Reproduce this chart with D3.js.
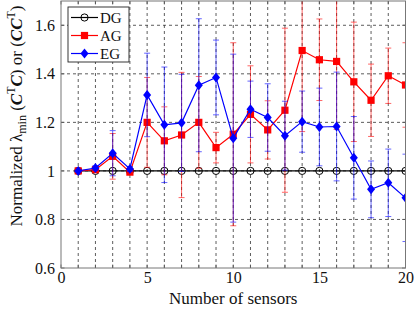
<!DOCTYPE html>
<html>
<head>
<meta charset="utf-8">
<script src="https://cdn.jsdelivr.net/npm/d3@7"></script>
<style>
  body { margin: 0; background: #fff; }
  svg { font-family: 'Liberation Serif', 'DejaVu Serif', serif; }
</style>
</head>
<body>
<svg id="chart" width="415" height="313"></svg>
<script>
const sensors = [1, 2, 3, 4, 5, 6, 7, 8, 9, 10, 11, 12, 13, 14, 15, 16, 17, 18, 19, 20]
const dgMean = [1, 1, 1, 1, 1, 1, 1, 1, 1, 1, 1, 1, 1, 1, 1, 1, 1, 1, 1, 1]
const dgErr = [0, 0, 0, 0, 0, 0, 0, 0, 0, 0, 0, 0, 0, 0, 0, 0, 0, 0, 0, 0]
const agMean = [1.000, 1.005, 1.060, 0.995, 1.200, 1.124, 1.148, 1.200, 1.096, 1.151,
                1.233, 1.169, 1.250, 1.496, 1.458, 1.451, 1.367, 1.291, 1.392, 1.354]
const agErr = [0, 0.008, 0.094, 0.008, 0.185, 0.140, 0.258, 0.189, 0.063, 0.377,
               0.200, 0.120, 0.338, 0.334, 0.168, 0.280, 0.246, 0.149, 0.114, 0.174]
const egMean = [1.000, 1.012, 1.073, 1.008, 1.313, 1.190, 1.198, 1.353, 1.385, 1.135,
                1.254, 1.220, 1.145, 1.203, 1.181, 1.183, 1.054, 0.924, 0.951, 0.889]
const egErr = [0, 0.010, 0.093, 0.010, 0.172, 0.238, 0.200, 0.274, 0.154, 0.346,
               0.116, 0.139, 0.142, 0.126, 0.160, 0.224, 0.170, 0.117, 0.139, 0.180]
const xTicks = [0, 5, 10, 15, 20]
const yTicks = [0.6, 0.8, 1.0, 1.2, 1.4, 1.6]
const seriesNames = ['DG', 'AG', 'EG']

const margin = {left: 61, right: 9.5, top: 1, bottom: 45}
const W = 415, H = 313
const svg = d3.select('#chart')

const x = d3.scaleLinear().domain([0, 20]).range([margin.left, W - margin.right])
const y = d3.scaleLinear().domain([0.6, 1.7]).range([H - margin.bottom, margin.top])

svg.append('defs').append('clipPath').attr('id', 'plot')
  .append('rect')
    .attr('x', x(0)).attr('y', y(1.7))
    .attr('width', x(20) - x(0)).attr('height', y(0.6) - y(1.7))

// grid
const grid = svg.append('g').attr('stroke', '#333').attr('stroke-dasharray', '3,3').attr('stroke-width', 0.8)
grid.selectAll('line.gx').data(d3.range(1, 20)).join('line')
  .attr('x1', d => x(d)).attr('x2', d => x(d))
  .attr('y1', y(0.6)).attr('y2', y(1.7))
grid.selectAll('line.gy').data(yTicks.slice(1)).join('line')
  .attr('y1', d => y(d)).attr('y2', d => y(d))
  .attr('x1', x(0)).attr('x2', x(20))

// axes, ticks inside like matlab
const axisBottom = d3.axisBottom(x).tickValues(xTicks).tickSize(0).tickPadding(4).tickFormat(d3.format('d'))
const axisLeft = d3.axisLeft(y).tickValues(yTicks).tickSize(0).tickPadding(6).tickFormat(d => d === 1 ? '1' : d3.format('.1f')(d))

svg.append('g').attr('transform', `translate(0, ${y(0.6)})`).call(axisBottom)
  .call(g => g.select('.domain').remove())
  .selectAll('text').attr('font-size', 16).attr('fill', '#111').attr('font-family', 'Liberation Serif')
svg.append('g').attr('transform', `translate(${x(0)}, 0)`).call(axisLeft)
  .call(g => g.select('.domain').remove())
  .selectAll('text').attr('font-size', 16).attr('fill', '#111').attr('font-family', 'Liberation Serif')

const ticks = svg.append('g').attr('stroke', '#555').attr('stroke-width', 0.8)
ticks.selectAll('line.tb').data(d3.range(0, 21)).join('line')
  .attr('x1', d => x(d)).attr('x2', d => x(d)).attr('y1', y(0.6)).attr('y2', y(0.6) - 3.5)
ticks.selectAll('line.tt').data(d3.range(0, 21)).join('line')
  .attr('x1', d => x(d)).attr('x2', d => x(d)).attr('y1', y(1.7)).attr('y2', y(1.7) + 3.5)
ticks.selectAll('line.tl').data(yTicks).join('line')
  .attr('y1', d => y(d)).attr('y2', d => y(d)).attr('x1', x(0)).attr('x2', x(0) + 3.5)
ticks.selectAll('line.tr').data(yTicks).join('line')
  .attr('y1', d => y(d)).attr('y2', d => y(d)).attr('x1', x(20)).attr('x2', x(20) - 3.5)

// series
const series = [
  {name: 'DG', mean: dgMean, err: dgErr, color: '#000', shape: 'circle'},
  {name: 'AG', mean: agMean, err: agErr, color: '#ff0000', shape: 'square'},
  {name: 'EG', mean: egMean, err: egErr, color: '#0000ff', shape: 'diamond'}
]

const line = d3.line().x(d => x(d.x)).y(d => y(d.y))
const plot = svg.append('g').attr('clip-path', 'url(#plot)')

function drawMarker (g, shape, color) {
  if (shape === 'circle') {
    g.append('circle').attr('r', 3.6).attr('fill', 'none').attr('stroke', color).attr('stroke-width', 1)
  } else if (shape === 'square') {
    g.append('rect').attr('x', -3.6).attr('y', -3.6).attr('width', 7.2).attr('height', 7.2).attr('fill', color)
  } else {
    g.append('path').attr('d', 'M0,-5L4,0L0,5L-4,0Z').attr('fill', color)
  }
}

series.forEach(s => {
  const pts = sensors.map((d, i) => ({x: d, y: s.mean[i], e: s.err[i]}))
  const eb = plot.append('g').attr('stroke', s.color).attr('stroke-opacity', 0.6).attr('stroke-width', 1)
  pts.filter(p => p.e > 0).forEach(p => {
    eb.append('line').attr('x1', x(p.x)).attr('x2', x(p.x)).attr('y1', y(p.y - p.e)).attr('y2', y(p.y + p.e))
    eb.append('line').attr('x1', x(p.x) - 3).attr('x2', x(p.x) + 3).attr('y1', y(p.y - p.e)).attr('y2', y(p.y - p.e))
    eb.append('line').attr('x1', x(p.x) - 3).attr('x2', x(p.x) + 3).attr('y1', y(p.y + p.e)).attr('y2', y(p.y + p.e))
  })
  plot.append('path').attr('d', line(pts)).attr('fill', 'none').attr('stroke', s.color).attr('stroke-width', 1.2)
  pts.forEach(p => {
    const g = plot.append('g').attr('transform', `translate(${x(p.x)}, ${y(p.y)})`)
    drawMarker(g, s.shape, s.color)
  })
})

// box
svg.append('rect')
  .attr('x', x(0)).attr('y', y(1.7))
  .attr('width', x(20) - x(0)).attr('height', y(0.6) - y(1.7))
  .attr('fill', 'none').attr('stroke', '#777').attr('stroke-width', 1)

// legend
const lg = svg.append('g').attr('transform', 'translate(68, 7)')
lg.append('rect').attr('width', 61).attr('height', 55).attr('fill', '#fff').attr('stroke', '#222').attr('stroke-width', 0.9)
series.forEach((s, i) => {
  const row = lg.append('g').attr('transform', `translate(0, ${10.5 + i * 18})`)
  row.append('line').attr('x1', 3).attr('x2', 30).attr('stroke', s.color).attr('stroke-width', 1.2)
  const m = row.append('g').attr('transform', 'translate(16.5, 0)')
  drawMarker(m, s.shape, s.color)
  row.append('text').attr('x', 32).attr('y', 5).attr('font-size', 15).attr('fill', '#111').text(seriesNames[i])
})

// axis labels
svg.append('text')
  .attr('x', (x(0) + x(20)) / 2).attr('y', 304)
  .attr('text-anchor', 'middle').attr('font-size', 17).attr('fill', '#111')
  .text('Number of sensors')

const yl = svg.append('text')
  .attr('transform', 'translate(22, 116) rotate(-90)')
  .attr('text-anchor', 'middle').attr('font-size', 17).attr('fill', '#111')
yl.append('tspan').text('Normalized λ')
yl.append('tspan').attr('font-size', 12).attr('dy', 4).text('min')
yl.append('tspan').attr('dy', -4).text(' (')
yl.append('tspan').attr('font-weight', 'bold').attr('font-style', 'italic').text('C')
yl.append('tspan').attr('font-size', 12).attr('dy', -7).text('T')
yl.append('tspan').attr('font-weight', 'bold').attr('font-style', 'italic').attr('dy', 7).text('C')
yl.append('tspan').text(') or (')
yl.append('tspan').attr('font-weight', 'bold').attr('font-style', 'italic').text('CC')
yl.append('tspan').attr('font-size', 12).attr('dy', -7).text('T')
yl.append('tspan').attr('dy', 7).text(')')
</script>
</body>
</html>
